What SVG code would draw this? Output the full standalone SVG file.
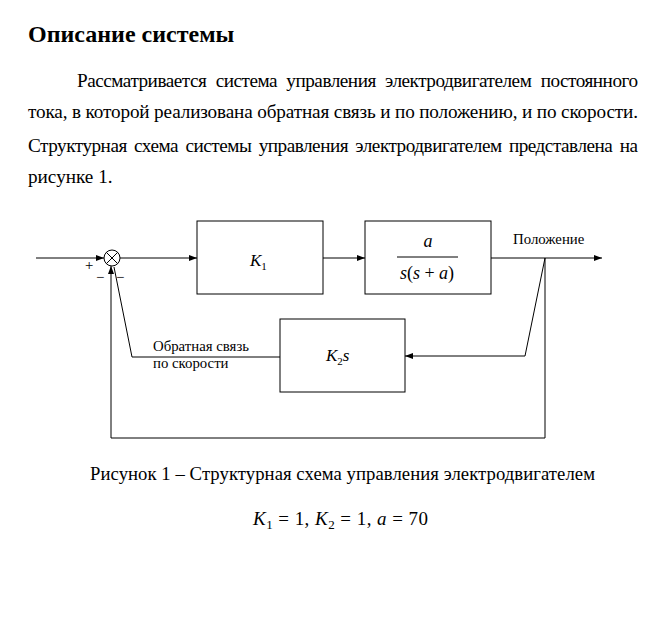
<svg xmlns="http://www.w3.org/2000/svg" width="665" height="623" viewBox="0 0 665 623">
<defs>
<style>
.t{font-family:"Liberation Serif","Times New Roman",serif;fill:#000}
.body{font-size:19.2px}
.small{font-size:14.8px}
.m{font-family:"Liberation Serif","Times New Roman",serif;font-style:italic;fill:#000}
.box{fill:#fff;stroke:#000;stroke-width:1}
.ln{fill:none;stroke:#000;stroke-width:1}
</style>
<marker id="ah" markerWidth="8" markerHeight="6" refX="8" refY="3" orient="auto" markerUnits="userSpaceOnUse">
<path d="M0,0 L8,3 L0,6 Z" fill="#000"/>
</marker>
</defs>
<rect width="665" height="623" fill="#fff"/>
<text class="t" x="28" y="42" font-size="24" font-weight="bold">Описание системы</text>
<text class="t body" x="77" y="87" word-spacing="5" textLength="561" lengthAdjust="spacing">Рассматривается система управления электродвигателем постоянного</text>
<text class="t body" x="28" y="118" textLength="610" lengthAdjust="spacing">тока, в которой реализована обратная связь и по положению, и по скорости.</text>
<text class="t body" x="28" y="152" word-spacing="3" textLength="610" lengthAdjust="spacing">Структурная схема системы управления электродвигателем представлена на</text>
<text class="t body" x="28" y="183">рисунке 1.</text>

<g id="sum">
<circle cx="112" cy="258" r="8" class="ln"/>
<line x1="106.3" y1="252.3" x2="117.7" y2="263.7" class="ln"/>
<line x1="117.7" y1="252.3" x2="106.3" y2="263.7" class="ln"/>
<text class="t small" x="85" y="270">+</text>
<text class="t small" x="96" y="282">−</text>
<text class="t small" x="116" y="282">−</text>
</g>
<g id="k1">
<rect x="197" y="221" width="126" height="73" class="box"/>
<text class="m" x="250" y="266" font-size="17">K<tspan font-style="normal" font-size="11" dy="4">1</tspan></text>
</g>
<g id="plant">
<rect x="365" y="221" width="126" height="73" class="box"/>
<text class="m" x="428" y="247" font-size="18" text-anchor="middle">a</text>
<line x1="397" y1="257" x2="458" y2="257" class="ln"/>
<text class="m" x="427" y="279" font-size="18" text-anchor="middle">s<tspan font-style="normal">(</tspan>s<tspan font-style="normal"> + </tspan>a<tspan font-style="normal">)</tspan></text>
</g>
<g id="k2s">
<rect x="280" y="319" width="125" height="73" class="box"/>
<text class="m" x="326" y="361" font-size="17">K<tspan font-style="normal" font-size="11" dy="4">2</tspan><tspan dy="-4">s</tspan></text>
</g>
<g id="labels">
<text class="t small" x="513" y="244">Положение</text>
<text class="t small" x="153" y="351">Обратная связь</text>
<text class="t small" x="153" y="368">по скорости</text>
</g>
<g id="connectors">
<line x1="36" y1="258" x2="104" y2="258" class="ln" marker-end="url(#ah)"/>
<line x1="120" y1="258" x2="197" y2="258" class="ln" marker-end="url(#ah)"/>
<line x1="323" y1="258" x2="365" y2="258" class="ln" marker-end="url(#ah)"/>
<line x1="491" y1="258" x2="602" y2="258" class="ln" marker-end="url(#ah)"/>
<polyline points="545,258 545,438 111,438 111,266" class="ln" marker-end="url(#ah)"/>
<polyline points="545,258 525,356 405,356" class="ln" marker-end="url(#ah)"/>
<polyline points="280,357 132,357 114,267" class="ln"/>
</g>

<text class="t" x="90" y="480" font-size="18.7" textLength="505" lengthAdjust="spacing">Рисунок 1 – Структурная схема управления электродвигателем</text>
<text class="t" x="253" y="525" font-size="19" textLength="175" lengthAdjust="spacing"><tspan font-style="italic">K</tspan><tspan font-size="13" dy="4">1</tspan><tspan dy="-4"> = 1, </tspan><tspan font-style="italic">K</tspan><tspan font-size="13" dy="4">2</tspan><tspan dy="-4"> = 1, </tspan><tspan font-style="italic">a</tspan> = 70</text>
</svg>
